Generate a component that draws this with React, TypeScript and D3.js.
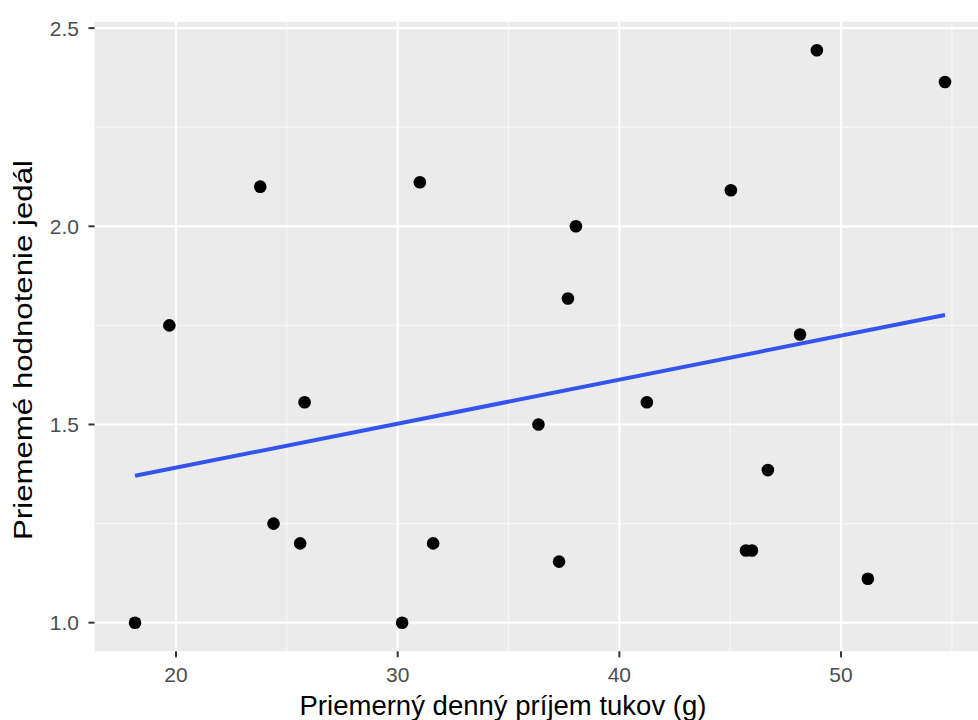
import { useEffect, useRef } from "react";
import * as d3 from "d3";

// Priemerný denný príjem tukov (g)
const fatIntake = [
  18.15, 19.7, 23.8, 24.4, 25.6, 25.8, 30.2, 31.0, 31.6, 36.35, 37.28,
  37.68, 38.04, 41.24, 45.03, 45.71, 45.98, 46.7, 48.15, 48.91, 51.21, 54.69,
];
// Priemerné hodnotenie jedál
const mealRating = [
  1.0, 1.75, 2.1, 1.25, 1.2, 1.556, 1.0, 2.111, 1.2, 1.5, 1.154,
  1.818, 2.0, 1.556, 2.091, 1.182, 1.182, 1.385, 1.727, 2.444, 1.111, 2.364,
];
const xTicks = [20, 30, 40, 50];
const xMinor = [15, 25, 35, 45, 55];
const yTicks = [1.0, 1.5, 2.0, 2.5];
const yMinor = [1.25, 1.75, 2.25];

const W = 978;
const H = 720;

export default function App() {
  const ref = useRef<SVGSVGElement>(null);

  useEffect(() => {
    if (!ref.current) return;
    const svg = d3.select(ref.current);
    svg.selectAll("*").remove();

    const data = fatIntake.map((x, i) => ({ x, y: mealRating[i] }));

    // ggplot-style 5% expansion of data range
    const [x0, x1] = d3.extent(fatIntake) as [number, number];
    const [y0, y1] = d3.extent(mealRating) as [number, number];
    const ex = (x1 - x0) * 0.05;
    const ey = (y1 - y0) * 0.05;

    const panel = { left: 94.5, right: 985.5, top: 21.7, bottom: 651.3 };

    const x = d3.scaleLinear().domain([x0 - ex, x1 + ex]).range([panel.left, panel.right]);
    const y = d3.scaleLinear().domain([y0 - ey, y1 + ey]).range([panel.bottom, panel.top]);

    // panel background
    svg.append("rect")
      .attr("x", panel.left)
      .attr("y", panel.top)
      .attr("width", panel.right - panel.left)
      .attr("height", panel.bottom - panel.top)
      .attr("fill", "#EBEBEB");

    const grid = svg.append("g");
    // minor grid
    grid.selectAll(".xminor")
      .data(xMinor.filter(v => x(v) >= panel.left && x(v) <= panel.right))
      .enter().append("line")
      .attr("x1", d => x(d)).attr("x2", d => x(d))
      .attr("y1", panel.top).attr("y2", panel.bottom)
      .attr("stroke", "#F7F7F7").attr("stroke-width", 1.2);
    grid.selectAll(".yminor")
      .data(yMinor)
      .enter().append("line")
      .attr("x1", panel.left).attr("x2", panel.right)
      .attr("y1", d => y(d)).attr("y2", d => y(d))
      .attr("stroke", "#F7F7F7").attr("stroke-width", 1.2);
    // major grid
    grid.selectAll(".xmajor")
      .data(xTicks)
      .enter().append("line")
      .attr("x1", d => x(d)).attr("x2", d => x(d))
      .attr("y1", panel.top).attr("y2", panel.bottom)
      .attr("stroke", "#fff").attr("stroke-width", 2.2);
    grid.selectAll(".ymajor")
      .data(yTicks)
      .enter().append("line")
      .attr("x1", panel.left).attr("x2", panel.right)
      .attr("y1", d => y(d)).attr("y2", d => y(d))
      .attr("stroke", "#fff").attr("stroke-width", 2.2);

    // linear regression (geom_smooth method = "lm")
    const mx = d3.mean(fatIntake)!;
    const my = d3.mean(mealRating)!;
    const sxy = d3.sum(data, d => (d.x - mx) * (d.y - my));
    const sxx = d3.sum(data, d => (d.x - mx) ** 2);
    const slope = sxy / sxx;
    const icpt = my - slope * mx;
    const fit = [x0, x1].map(v => ({ x: v, y: icpt + slope * v }));

    svg.append("path")
      .datum(fit)
      .attr("d", d3.line<{ x: number; y: number }>().x(d => x(d.x)).y(d => y(d.y)))
      .attr("fill", "none")
      .attr("stroke", "#3355EE")
      .attr("stroke-width", 4);

    // points
    svg.selectAll(".pt")
      .data(data)
      .enter().append("circle")
      .attr("cx", d => x(d.x))
      .attr("cy", d => y(d.y))
      .attr("r", 6.3)
      .attr("fill", "#000");

    const font = "'Liberation Sans', Arial, Helvetica, sans-serif";

    // x axis ticks & labels
    const xa = svg.append("g");
    xa.selectAll("line")
      .data(xTicks)
      .enter().append("line")
      .attr("x1", d => x(d)).attr("x2", d => x(d))
      .attr("y1", panel.bottom).attr("y2", panel.bottom + 6)
      .attr("stroke", "#333").attr("stroke-width", 2);
    xa.selectAll("text")
      .data(xTicks)
      .enter().append("text")
      .attr("x", d => x(d))
      .attr("y", 682)
      .attr("text-anchor", "middle")
      .attr("font-family", font)
      .attr("font-size", 21)
      .attr("fill", "#4D4D4D")
      .text(d => d3.format("d")(d));

    // y axis ticks & labels
    const ya = svg.append("g");
    ya.selectAll("line")
      .data(yTicks)
      .enter().append("line")
      .attr("x1", panel.left - 6).attr("x2", panel.left)
      .attr("y1", d => y(d)).attr("y2", d => y(d))
      .attr("stroke", "#333").attr("stroke-width", 2);
    ya.selectAll("text")
      .data(yTicks)
      .enter().append("text")
      .attr("x", 79)
      .attr("y", d => y(d))
      .attr("dy", "0.36em")
      .attr("text-anchor", "end")
      .attr("font-family", font)
      .attr("font-size", 21)
      .attr("fill", "#4D4D4D")
      .text(d => d3.format(".1f")(d));

    // axis titles
    svg.append("text")
      .attr("x", 503)
      .attr("y", 715)
      .attr("text-anchor", "middle")
      .attr("font-family", font)
      .attr("font-size", 27)
      .attr("textLength", 407)
      .attr("lengthAdjust", "spacingAndGlyphs")
      .attr("fill", "#000")
      .text("Priemerný denný príjem tukov (g)");

    svg.append("text")
      .attr("transform", `translate(32,350) rotate(-90)`)
      .attr("text-anchor", "middle")
      .attr("font-family", font)
      .attr("font-size", 26)
      .attr("textLength", 380)
      .attr("lengthAdjust", "spacingAndGlyphs")
      .attr("fill", "#000")
      .text("Priememé hodnotenie jedál");
  }, []);

  return (
    <svg
      ref={ref}
      width={W}
      height={H}
      style={{ position: "absolute", left: 0, top: 0, background: "#fff" }}
    />
  );
}
